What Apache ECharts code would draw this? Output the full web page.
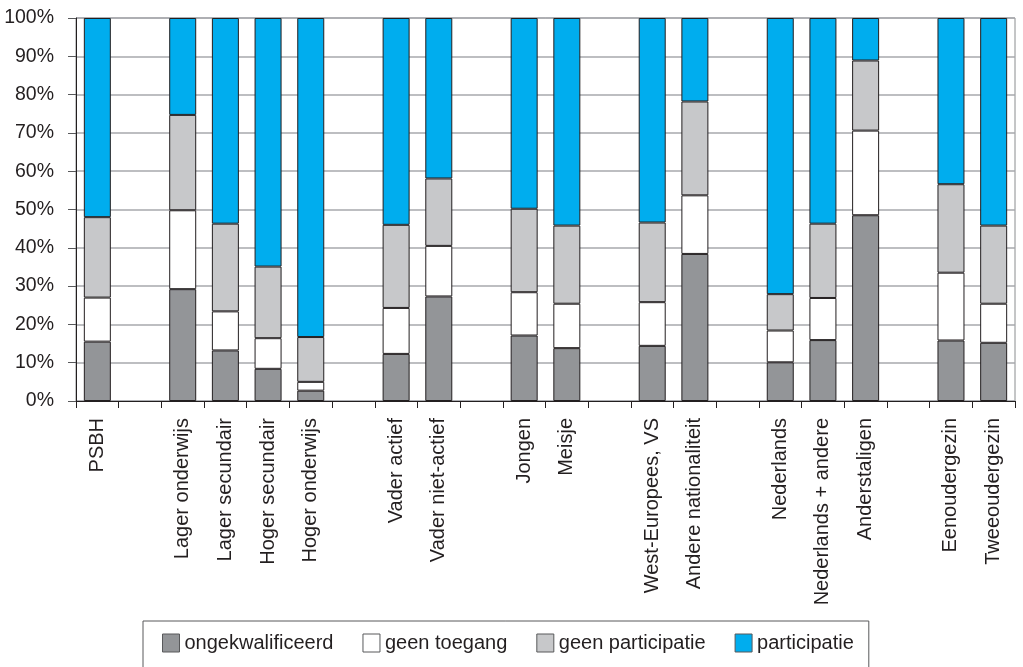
<!DOCTYPE html>
<html>
<head>
<meta charset="utf-8">
<script src="https://cdn.jsdelivr.net/npm/echarts@6/dist/echarts.min.js"></script>
<style>
  html, body { margin: 0; padding: 0; background: #fff; }
  #chart { width: 1023px; height: 667px; }
</style>
</head>
<body>
<div id="chart"></div>
<script>
// groepen, lege namen zijn tussenruimtes
const categories = [
    'PSBH', '',
    'Lager onderwijs', 'Lager secundair', 'Hoger secundair', 'Hoger onderwijs', '',
    'Vader actief', 'Vader niet-actief', '',
    'Jongen', 'Meisje', '',
    'West-Europees, VS', 'Andere nationaliteit', '',
    'Nederlands', 'Nederlands + andere', 'Anderstaligen', '',
    'Eenoudergezin', 'Tweeoudergezin'
];

const ongekwalificeerd = [15.5, null, 29.2, 13.2, 8.4, 2.7, null, 12.3, 27.3, null, 17.1, 13.8, null, 14.4, 38.4, null, 10.1, 15.9, 48.5, null, 15.8, 15.2];
const geenToegang      = [11.5, null, 20.6, 10.2, 8.0, 2.3, null, 12.0, 13.2, null, 11.3, 11.6, null, 11.4, 15.3, null, 8.3, 11.0, 22.1, null, 17.7, 10.2];
const geenParticipatie = [21.0, null, 24.9, 22.9, 18.7, 11.7, null, 21.7, 17.6, null, 21.8, 20.4, null, 20.8, 24.5, null, 9.5, 19.4, 18.3, null, 23.1, 20.4];
const participatie     = [52.0, null, 25.3, 53.7, 64.9, 83.3, null, 54.0, 41.9, null, 49.8, 54.2, null, 53.4, 21.8, null, 72.1, 53.7, 11.1, null, 43.4, 54.2];

const seriesNames = ['ongekwalificeerd', 'geen toegang', 'geen participatie', 'participatie'];
const seriesColors = ['#939598', '#ffffff', '#c7c8ca', '#00adee'];
const seriesData = [ongekwalificeerd, geenToegang, geenParticipatie, participatie];

const chart = echarts.init(document.getElementById('chart'));
const font = "'Liberation Sans', Arial, sans-serif";

const option = {
    animation: false,
    textStyle: { fontFamily: font, color: '#231f20' },
    grid: {
        left: 76, right: 8, top: 18, bottom: 266,
        show: true, borderColor: '#8a8c8e', borderWidth: 1
    },
    legend: {
        data: seriesNames,
        icon: 'rect',
        left: 143,
        top: 621,
        padding: [12, 15, 40, 19],
        itemWidth: 17,
        itemHeight: 18,
        itemGap: 29,
        borderColor: '#58595b',
        borderWidth: 1,
        textStyle: { fontFamily: font, fontSize: 20, color: '#231f20' },
        itemStyle: { borderColor: '#58595b', borderWidth: 1 }
    },
    xAxis: {
        type: 'category',
        data: categories,
        axisLine: { lineStyle: { color: '#231f20', width: 1 } },
        axisTick: { show: true, alignWithLabel: false, interval: 0, length: 7, lineStyle: { color: '#231f20', width: 1 } },
        axisLabel: {
            interval: 0,
            rotate: 90,
            margin: 17,
            fontSize: 20,
            fontFamily: font,
            color: '#231f20'
        }
    },
    yAxis: {
        type: 'value',
        min: 0,
        max: 100,
        interval: 10,
        axisLine: { show: true, lineStyle: { color: '#231f20', width: 1 } },
        axisTick: { show: true, length: 8, lineStyle: { color: '#58595b' } },
        axisLabel: {
            formatter: '{value}%',
            fontSize: 19.5,
            margin: 22,
            fontFamily: font,
            color: '#231f20'
        },
        splitLine: { lineStyle: { color: '#a7a9ac', width: 1.5 } }
    },
    series: seriesNames.map((name, i) => ({
        name: name,
        type: 'bar',
        stack: 'totaal',
        barWidth: 27,
        data: seriesData[i],
        itemStyle: {
            color: seriesColors[i],
            borderColor: '#231f20',
            borderWidth: 1
        }
    }))
};

chart.setOption(option);
</script>
</body>
</html>
